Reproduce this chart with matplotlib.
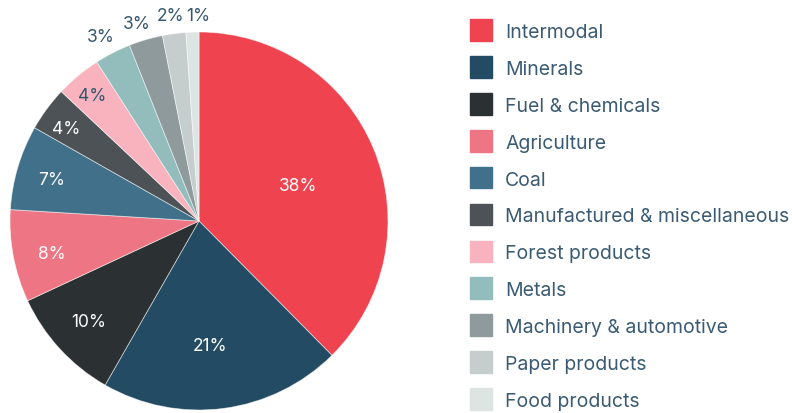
import matplotlib
matplotlib.use("Agg")
import matplotlib.pyplot as plt
from matplotlib.patches import Rectangle
import numpy as np

categories = ["Intermodal", "Minerals", "Fuel & chemicals", "Agriculture", "Coal",
              "Manufactured & miscellaneous", "Forest products", "Metals",
              "Machinery & automotive", "Paper products", "Food products"]
shares = [37.6, 20.7, 9.8, 7.9, 7.25, 3.8, 3.9, 3.1, 2.9, 2.0, 1.1]
pct_labels = ["38%", "21%", "10%", "8%", "7%", "4%", "4%", "3%", "3%", "2%", "1%"]
colors = ["#EF444F", "#234B63", "#2B3033", "#EE7684", "#41718A", "#4C5256",
          "#F8B3BE", "#93BDBD", "#8F9A9C", "#C5CECD", "#DDE5E3"]

# layout: label placement (radius fraction, angle nudge in degrees, light text?)
label_r = [0.561, 0.653, 0.782, 0.795, 0.814, 0.864, 0.88, 1.117, 1.103, 1.106, 1.10]
label_nudge = [-1.9, -2.3, -0.6, 0.8, 0.0, 1.1, 0.4, 0.5, 0.9, 0.4, -1.7]
label_light = [True, True, True, True, True, True, False, False, False, False, False]
text_dark = "#34566F"
FONT = "Inter"

W, H = 792, 414
fig = plt.figure(figsize=(W / 100, H / 100), dpi=100)
cx, cy, R = 199, 222, 189
ax = fig.add_axes([(cx - R) / W, (H - cy - R) / H, 2 * R / W, 2 * R / H])
wedges, _ = ax.pie(shares, colors=colors, startangle=90, counterclock=False,
                   radius=1, wedgeprops=dict(edgecolor="#FFFFFF90", linewidth=0.6))
ax.set_xlim(-1, 1)
ax.set_ylim(-1, 1)
ax.set_aspect("equal")
ax.axis("off")

for w, lab, r, nd, light in zip(wedges, pct_labels, label_r, label_nudge, label_light):
    ang = np.deg2rad((w.theta1 + w.theta2) / 2 + nd)
    col = "white" if light else text_dark
    ax.text(r * np.cos(ang), r * np.sin(ang), lab, ha="center", va="center_baseline",
            fontsize=12.5, color=col, family=FONT, clip_on=False)

# legend
lx, ly0, dy, sz = 470, 31, 36.9, 21.7
for i, (cat, c) in enumerate(zip(categories, colors)):
    yc = ly0 + i * dy
    fig.patches.append(Rectangle((lx / W, (H - yc - sz / 2) / H), sz / W, sz / H,
                                 transform=fig.transFigure, color=c))
    fig.text(505 / W, (H - yc) / H, cat, ha="left", va="center_baseline",
             fontsize=14, color="#3A5B73", family=FONT)

fig.savefig("out.png", dpi=100)
